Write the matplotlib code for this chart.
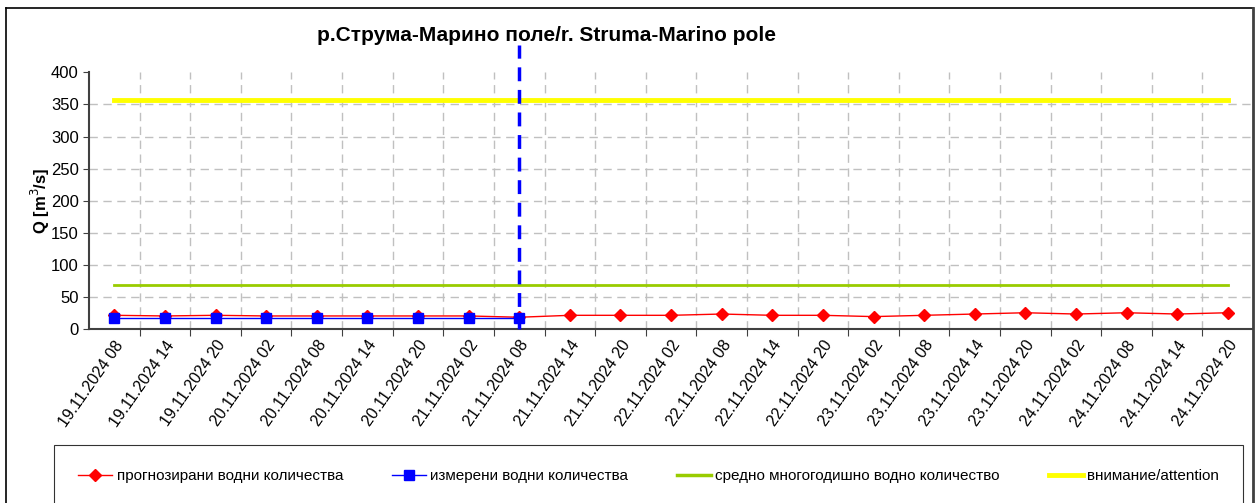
import matplotlib.pyplot as plt
from matplotlib.lines import Line2D

plt.rcParams['font.family'] = ['Liberation Sans', 'DejaVu Sans']

# Data
labels = ['19.11.2024 08', '19.11.2024 14', '19.11.2024 20', '20.11.2024 02',
          '20.11.2024 08', '20.11.2024 14', '20.11.2024 20', '21.11.2024 02',
          '21.11.2024 08', '21.11.2024 14', '21.11.2024 20', '22.11.2024 02',
          '22.11.2024 08', '22.11.2024 14', '22.11.2024 20', '23.11.2024 02',
          '23.11.2024 08', '23.11.2024 14', '23.11.2024 20', '24.11.2024 02',
          '24.11.2024 08', '24.11.2024 14', '24.11.2024 20']
forecast = [22, 21, 22, 21, 21, 21, 21, 21, 19,
            22, 22, 22, 24, 22, 22, 20, 22, 24, 26, 24, 26, 24, 26]
measured = [18, 18, 18, 18, 18, 18, 18, 18, 18]
mean_q = 69.5
attention_q = 357
now_idx = 8

x = list(range(len(labels)))

fig = plt.figure(figsize=(12.56, 5.03), dpi=100)
ax = fig.add_axes([0.0709, 0.345, 0.9268, 0.5115])

# grid
for v in range(50, 400, 50):
    ax.axhline(v, color='#c0c0c0', lw=1, ls=(0, (6, 4)), zorder=0)
for b in range(1, len(labels)):
    ax.axvline(b - 0.5, color='#c0c0c0', lw=1, ls=(0, (6, 4)), zorder=0)

ax.plot([x[0], x[-1]], [attention_q, attention_q], color='#ffff00', lw=3.5, zorder=2)
ax.plot([x[0], x[-1]], [mean_q, mean_q], color='#99cc00', lw=2, zorder=2)
ax.plot(x, forecast, color='red', lw=1, marker='D', ms=6, zorder=3)
ax.plot(x[:len(measured)], measured, color='#0000ff', lw=1, marker='s', ms=7, zorder=4)
ax.plot([now_idx, now_idx], [0, 442], color='#0000ff', lw=2.5, ls=(0, (4, 2.5)),
        clip_on=False, zorder=5)

ax.set_xlim(-0.5, len(labels) - 0.5)
ax.set_ylim(0, 400)
ax.set_yticks(range(0, 401, 50))
ax.tick_params(axis='y', labelsize=12, length=4, color='#404040')
ax.set_xticks([b - 0.5 for b in range(1, len(labels))])
ax.set_xticklabels([])
ax.tick_params(axis='x', length=5, color='#404040')
ax.set_xticks(x, minor=True)
ax.set_xticklabels(labels, minor=True, rotation=55, ha='right', rotation_mode='anchor',
                   fontsize=11.5)
ax.tick_params(axis='x', which='minor', length=0, pad=6)
for s in ['top', 'right']:
    ax.spines[s].set_visible(False)
for s in ['left', 'bottom']:
    ax.spines[s].set_color('#404040')
    ax.spines[s].set_linewidth(1.5)

ax.set_ylabel('Q [m$^3$/s]', fontsize=12, fontweight='bold')
ax.yaxis.set_label_coords(-0.032, 0.5)

fig.text(0.4355, 0.93, 'р.Струма-Марино поле/r. Struma-Marino pole',
         ha='center', va='center', fontsize=15, fontweight='bold')

# outer frame
fig.add_artist(Line2D([0.005, 0.998], [0.984, 0.984], color='black', lw=1.2))
fig.add_artist(Line2D([0.005, 0.005], [0.0, 0.984], color='black', lw=1.2))
fig.add_artist(Line2D([0.998, 0.998], [0.0, 0.984], color='#404040', lw=2))

handles = [
    Line2D([], [], color='red', lw=1, marker='D', ms=6),
    Line2D([], [], color='#0000ff', lw=1, marker='s', ms=7),
    Line2D([], [], color='#99cc00', lw=2.5),
    Line2D([], [], color='#ffff00', lw=3.5),
]
names = ['прогнозирани водни количества', 'измерени водни количества',
         'средно многогодишно водно количество', 'внимание/attention']
leg = fig.legend(handles, names, loc='upper left', ncol=4, mode='expand',
                 bbox_to_anchor=(0.043, 0.1153, 0.947, 0.0), borderaxespad=0,
                 fontsize=11, frameon=True, fancybox=False, edgecolor='black',
                 handlelength=2.2, handletextpad=0.3, borderpad=1.6)
leg.get_frame().set_linewidth(0.8)

fig.savefig('out.png', dpi=100)
